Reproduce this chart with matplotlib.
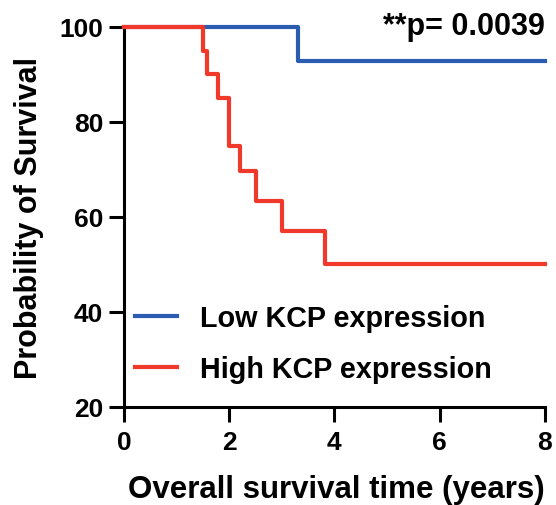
import matplotlib
matplotlib.use("Agg")
import matplotlib.pyplot as plt

plt.rcParams['font.family'] = ['Liberation Sans', 'DejaVu Sans']
plt.rcParams['font.weight'] = 'bold'

# Kaplan-Meier step data
low_t = [0, 3.31, 8]
low_s = [100, 92.9, 92.9]
high_t = [0, 1.50, 1.58, 1.79, 2.00, 2.20, 2.51, 3.01, 3.83, 8]
high_s = [100, 95.0, 90.0, 85.0, 75.0, 69.6, 63.3, 57.0, 50.0, 50.0]
labels = ["Low KCP expression", "High KCP expression"]
xticks = [0, 2, 4, 6, 8]
yticks = [20, 40, 60, 80, 100]
pval = "**p= 0.0039"

blue = "#2a5cb0"
red = "#f0392b"

fig = plt.figure(figsize=(5.56, 5.06), dpi=100)
ax = fig.add_axes([0.223, 0.194, 0.757, 0.751])

ax.step(low_t, low_s, where='post', color=blue, lw=3, label=labels[0], clip_on=False, zorder=3)
ax.step(high_t, high_s, where='post', color=red, lw=3, label=labels[1], clip_on=False, zorder=3)

ax.set_xlim(0, 8)
ax.set_ylim(20, 100)
ax.set_xticks(xticks)
ax.set_yticks(yticks)
for s in ['top', 'right']:
    ax.spines[s].set_visible(False)
for s in ['left', 'bottom']:
    ax.spines[s].set_linewidth(2.2)
ax.tick_params(axis='both', which='major', length=11, width=2.2, labelsize=19, pad=4)
ax.tick_params(axis='x', pad=6)
for lab in ax.get_xticklabels() + ax.get_yticklabels():
    lab.set_fontweight('bold')

ax.set_xlabel("Overall survival time (years)", fontsize=22.5, fontweight='bold')
ax.set_ylabel("Probability of Survival", fontsize=22, fontweight='bold')
ax.yaxis.set_label_coords(-0.190, 0.5)
ax.xaxis.set_label_coords(0.505, -0.178)

ax.text(8, 98.5, pval, ha='right', va='baseline', fontsize=22, fontweight='bold')

leg = ax.legend(loc='upper left', bbox_to_anchor=(0.0, 0.300), frameon=False,
                fontsize=20.7, handlelength=1.46, handletextpad=0.8, labelspacing=0.79,
                borderaxespad=0.0)
for t in leg.get_texts():
    t.set_fontweight('bold')

fig.savefig("out.png", dpi=100)
